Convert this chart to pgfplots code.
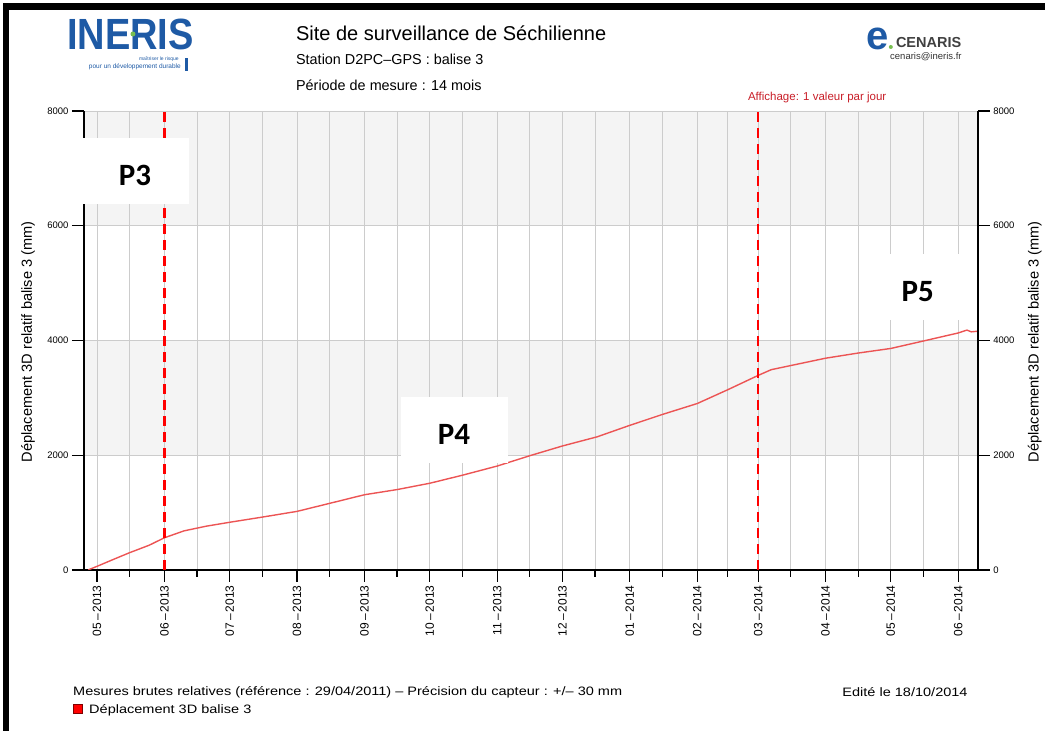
\documentclass[border=0pt]{standalone}
\usepackage{fontspec}
\setmainfont{Liberation Sans}
\newfontfamily\calibri{Carlito}
\usepackage{pgfplots}
\usepackage{pgfplotstable}
\pgfplotsset{compat=1.18}
\definecolor{curve}{RGB}{236,84,84}
\definecolor{band}{RGB}{244,244,244}
\definecolor{gridc}{RGB}{204,204,204}
\definecolor{inerisblue}{RGB}{30,90,165}
\definecolor{inerisgreen}{RGB}{120,190,80}
\definecolor{affred}{RGB}{200,30,40}

\pgfplotstableread{
day mm
-4 0
0 62
8 190
15 300
24 430
31 560
40 680
50 760
61 830
76 920
92 1020
107 1160
123 1310
138 1400
153 1510
168 1650
184 1810
199 1990
214 2160
230 2320
245 2520
260 2710
276 2900
290 3140
304 3390
310 3490
320 3570
335 3690
350 3780
365 3860
380 3990
396 4130
400 4180
402 4150
405 4160
}\datatable

\begin{document}
\begin{tikzpicture}
\path (0,0) rectangle (1045pt,731pt);
\fill[black] (3pt,0pt) rectangle (9pt,728pt);
\fill[black] (3pt,721pt) rectangle (1045pt,728pt);

\begin{axis}[
  at={(84pt,161pt)}, anchor=south west, scale only axis,
  width=894pt, height=459pt,
  xmin=-6, xmax=405, ymin=0, ymax=8000,
  set layers,
  axis x line*=bottom, axis y line*=left,
  axis line style={line width=2.2pt, black, -},
  xtick={0,31,61,92,123,153,184,214,245,276,304,335,365,396},
  xticklabels={05\,–\,2013,06\,–\,2013,07\,–\,2013,08\,–\,2013,09\,–\,2013,10\,–\,2013,11\,–\,2013,12\,–\,2013,01\,–\,2014,02\,–\,2014,03\,–\,2014,04\,–\,2014,05\,–\,2014,06\,–\,2014},
  minor xtick={15,46,76,107,138,168,199,229,260,290,319,350,380},
  ytick={0,2000,4000,6000,8000},
  grid=both,
  major grid style={gridc, line width=0.8pt},
  minor grid style={gridc, line width=0.8pt},
  tick align=outside, major tick length=12pt, minor tick length=7pt,
  tick style={black, line width=1.3pt},
  x tick label style={rotate=90, anchor=east, font=\fontsize{12}{14}\selectfont},
  y tick label style={font=\fontsize{9.5}{11}\selectfont},
  /pgf/number format/1000 sep={},
  /pgf/number format/assume math mode=true,
]
\addplot[on layer=axis background, fill=band, draw=none] coordinates {(-6,2000)(405,2000)(405,4000)(-6,4000)(-6,2000)};
\addplot[on layer=axis background, fill=band, draw=none] coordinates {(-6,6000)(405,6000)(405,8000)(-6,8000)(-6,6000)};
\addplot[curve, line width=1.4pt] table[x=day,y=mm]{\datatable};
\addplot[red, line width=2.6pt, dash pattern=on 10pt off 6pt] coordinates {(31,0)(31,8000)};
\addplot[red, line width=2.6pt, dash pattern=on 10pt off 6pt] coordinates {(304,0)(304,8000)};
\end{axis}

\begin{axis}[
  at={(84pt,161pt)}, anchor=south west, scale only axis,
  width=894pt, height=459pt,
  xmin=-6, xmax=405, ymin=0, ymax=8000,
  axis x line=none,
  axis y line*=right,
  axis line style={line width=2.2pt, black, -},
  ytick={0,2000,4000,6000,8000},
  tick align=outside, major tick length=12pt,
  tick style={black, line width=1.3pt},
  y tick label style={font=\fontsize{9.5}{11}\selectfont},
  /pgf/number format/1000 sep={},
  /pgf/number format/assume math mode=true,
]
\addplot[opacity=0] coordinates {(0,0)(400,8000)};
\end{axis}

% axis labels
\node[rotate=90, font=\fontsize{14.6}{16}\selectfont] at (28pt,389pt) {Déplacement 3D relatif balise 3 (mm)};
\node[rotate=90, font=\fontsize{14.6}{16}\selectfont] at (1035pt,389pt) {Déplacement 3D relatif balise 3 (mm)};

% header
\node[anchor=west, inner sep=0pt, font=\fontsize{20}{22}\selectfont] at (296pt,698pt) {Site de surveillance de Séchilienne};
\node[anchor=west, inner sep=0pt, font=\fontsize{14.4}{16}\selectfont] at (296pt,672pt) {Station D2PC–GPS : balise 3};
\node[anchor=west, inner sep=0pt, font=\fontsize{14.4}{16}\selectfont] at (296pt,646pt) {Période de mesure : 14 mois};
\node[anchor=west, inner sep=0pt, text=affred, font=\fontsize{11.5}{13}\selectfont] at (748pt,633pt) {Affichage: 1 valeur par jour};

% INERIS logo
\node[anchor=west, text=inerisblue, font=\fontsize{38}{40}\selectfont\bfseries, yscale=1.15, inner sep=0pt] at (67pt,697pt) {INERIS};
\fill[inerisgreen] (133pt,697pt) circle (2.5pt);
\node[anchor=east, text=inerisblue, font=\fontsize{5}{6}\selectfont, inner sep=0pt] at (179pt,672pt) {maîtriser le risque};
\node[anchor=east, text=inerisblue, font=\fontsize{6.5}{7}\selectfont, inner sep=0pt] at (181pt,664pt) {pour un développement durable};
\fill[inerisblue] (185pt,660pt) rectangle (188pt,673pt);

% e.CENARIS logo
\node[anchor=base west, text=inerisblue, font=\fontsize{40}{40}\selectfont\bfseries, inner sep=0pt] at (866pt,681pt) {e};
\fill[inerisgreen] (891pt,684pt) circle (2pt);
\node[anchor=base west, text=black!75, font=\fontsize{14.5}{16}\selectfont\bfseries, inner sep=0pt] at (896pt,683pt) {CENARIS};
\node[anchor=east, text=black!80, font=\fontsize{9.5}{11}\selectfont, inner sep=0pt] at (962pt,674pt) {cenaris@ineris.fr};

% footer
\node[anchor=west, font=\fontsize{12.2}{14}\selectfont, inner sep=0pt, xscale=1.19, transform shape] at (73pt,39pt) {Mesures brutes relatives (référence : 29/04/2011) – Précision du capteur : +/– 30 mm};
\node[anchor=east, font=\fontsize{12.2}{14}\selectfont, inner sep=0pt, xscale=1.19, transform shape] at (968pt,39pt) {Edité le 18/10/2014};
\draw[fill=red, draw=red!50!black, line width=0.8pt] (73pt,17pt) rectangle (82pt,26pt);
\node[anchor=west, font=\fontsize{12.2}{14}\selectfont, inner sep=0pt, xscale=1.19, transform shape] at (89pt,21pt) {Déplacement 3D balise 3};

% phase boxes
\node[fill=white, minimum width=107pt, minimum height=66pt, inner sep=0pt] at (135.5pt,560pt) {};
\node[font=\fontsize{31}{32}\selectfont\calibri\bfseries] at (135pt,556pt) {P3};
\node[fill=white, minimum width=107pt, minimum height=66pt, inner sep=0pt] at (454.5pt,301pt) {};
\node[font=\fontsize{31}{32}\selectfont\calibri\bfseries] at (454pt,296pt) {P4};
\node[fill=white, minimum width=107pt, minimum height=66pt, inner sep=0pt] at (918pt,444pt) {};
\node[font=\fontsize{31}{32}\selectfont\calibri\bfseries] at (918pt,439pt) {P5};
\end{tikzpicture}
\end{document}
